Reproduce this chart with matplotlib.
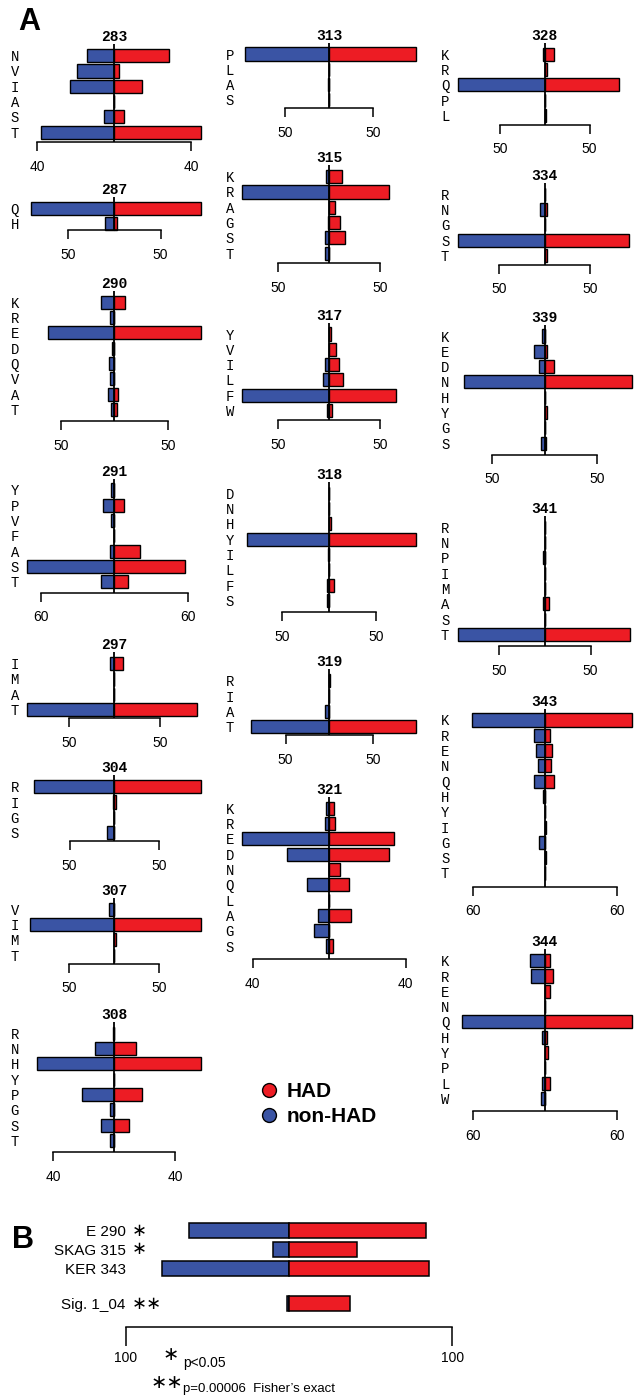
import matplotlib
matplotlib.use('Agg')
import matplotlib.pyplot as plt
from matplotlib.lines import Line2D

W, H = 637, 1399
RED = '#ED1C24'
BLUE = '#3A54A4'
ROW = 15.3  # px between residue rows
SANS = 'Liberation Sans'
MONO = 'Liberation Mono'

# ---- panel A data (% of sequences, HAD / non-HAD) ----
res_283 = ['N', 'V', 'I', 'A', 'S', 'T']
had_283 = [28.4, 2.4, 14.4, 0, 5.0, 45.2]
non_283 = [14.3, 19.2, 23.2, 0, 5.2, 37.9]

res_287 = ['Q', 'H']
had_287 = [94.0, 3.0]
non_287 = [90.0, 10.0]

res_290 = ['K', 'R', 'E', 'D', 'Q', 'V', 'A', 'T']
had_290 = [10.3, 0, 81.3, 0, 0, 0, 3.5, 2.5]
non_290 = [12.7, 4.3, 61.7, 2.4, 5.2, 4.3, 6.2, 3.4]

res_291 = ['Y', 'P', 'V', 'F', 'A', 'S', 'T']
had_291 = [0, 7.6, 0, 0, 21.1, 57.9, 11.1]
non_291 = [2.7, 9.4, 2.7, 0, 3.2, 71.0, 10.8]

res_297 = ['I', 'M', 'A', 'T']
had_297 = [9.5, 0, 0, 90.5]
non_297 = [4.7, 0, 0, 95.5]

res_304 = ['R', 'I', 'G', 'S']
had_304 = [97.4, 1.5, 0, 0]
non_304 = [89.6, 1.5, 0, 8.1]

res_307 = ['V', 'I', 'M', 'T']
had_307 = [0, 96.7, 1.5, 0]
non_307 = [5.6, 93.7, 0, 0]

res_308 = ['R', 'N', 'H', 'Y', 'P', 'G', 'S', 'T']
had_308 = [0, 14.2, 56.9, 0, 17.9, 0, 9.8, 0]
non_308 = [0.8, 12.4, 50.3, 0, 21.1, 2.6, 8.9, 2.8]

res_313 = ['P', 'L', 'A', 'S']
had_313 = [98.9, 0, 0, 0]
non_313 = [96.2, 0, 1.5, 0]

res_315 = ['K', 'R', 'A', 'G', 'S', 'T']
had_315 = [12.4, 58.4, 5.2, 10.1, 15.3, 0]
non_315 = [3.5, 85.3, 0, 1.6, 3.9, 4.5]

res_317 = ['Y', 'V', 'I', 'L', 'F', 'W']
had_317 = [2.0, 6.8, 9.2, 13.7, 65.2, 2.9]
non_317 = [0, 0, 4.2, 6.2, 85.3, 2.5]

res_318 = ['D', 'N', 'H', 'Y', 'I', 'L', 'F', 'S']
had_318 = [0, 0, 1.5, 92.9, 0, 0, 5.0, 0]
non_318 = [0.5, 0, 0, 88.3, 1.0, 0, 2.7, 2.7]

res_319 = ['R', 'I', 'A', 'T']
had_319 = [0.8, 0, 0, 99.7]
non_319 = [0.8, 0, 4.5, 89.3]

res_321 = ['K', 'R', 'E', 'D', 'N', 'Q', 'L', 'A', 'G', 'S']
had_321 = [2.4, 3.1, 33.7, 31.1, 5.6, 10.3, 0, 11.3, 0, 2.1]
non_321 = [1.7, 2.1, 45.5, 21.9, 0, 11.5, 0, 5.9, 7.8, 1.7]

res_328 = ['K', 'R', 'Q', 'P', 'L']
had_328 = [10.7, 2.5, 82.3, 0, 2.0]
non_328 = [1.9, 0, 96.7, 0, 0]

res_334 = ['R', 'N', 'G', 'S', 'T']
had_334 = [0, 2.9, 0, 92.8, 2.5]
non_334 = [0, 4.7, 0, 95.3, 0]

res_339 = ['K', 'E', 'D', 'N', 'H', 'Y', 'G', 'S']
had_339 = [0, 2.5, 9.2, 83.2, 0, 2.2, 0, 1.3]
non_339 = [2.2, 10.1, 5.7, 77.2, 0, 0, 0, 3.8]

res_341 = ['R', 'N', 'P', 'I', 'M', 'A', 'S', 'T']
had_341 = [0, 0, 0, 0, 0, 4.3, 0, 92.7]
non_341 = [0, 0, 1.8, 0, 0, 2.2, 0, 94.6]

res_343 = ['K', 'R', 'E', 'N', 'Q', 'H', 'Y', 'I', 'G', 'S', 'T']
had_343 = [72.3, 4.4, 6.3, 5.5, 7.4, 0, 0, 1.0, 0, 1.0, 0]
non_343 = [60.4, 9.3, 7.1, 5.2, 9.1, 1.2, 0, 0, 4.4, 0, 0]

res_344 = ['K', 'R', 'E', 'N', 'Q', 'H', 'Y', 'P', 'L', 'W']
had_344 = [4.7, 7.1, 4.7, 0, 72.3, 2.0, 2.7, 0, 4.1, 0]
non_344 = [12.1, 11.0, 0, 0, 68.4, 2.5, 0, 0, 2.5, 3.0]

# ---- panel B data ----
sig_names = ['E 290', 'SKAG 315', 'KER 343', 'Sig. 1_04']
sig_stars = ['\u2217', '\u2217', '', '\u2217\u2217']
sig_had = [83.9, 41.9, 85.5, 37.1]
sig_non = [61.1, 10.0, 77.6, 1.2]

fig = plt.figure(figsize=(W / 100, H / 100), dpi=100)


def px_axes(x0, y0, x1, y1):
    return fig.add_axes([x0 / W, 1 - y1 / H, (x1 - x0) / W, (y1 - y0) / H])


def panel(title, cx, ytop, res, had, non, tick):
    n = len(res)
    off = 0.35 + 0.05 * n
    ax = px_axes(cx - 87, ytop - 0.75 * ROW, cx + 87, ytop + (n - 1 + off) * ROW)
    y = list(range(n))
    ax.barh(y, [-v for v in non], height=0.86, color=BLUE, edgecolor='k',
            lw=1.0, clip_on=False, zorder=2)
    ax.barh(y, had, height=0.86, color=RED, edgecolor='k',
            lw=1.0, clip_on=False, zorder=2)
    lim = max(max(had), max(non))
    ax.set_xlim(-lim, lim)
    ax.set_ylim(n - 1 + off, -0.75)
    ax.axvline(0, color='k', lw=1.3, zorder=3)
    for s in ['top', 'left', 'right']:
        ax.spines[s].set_visible(False)
    ax.spines['bottom'].set_bounds(-tick, tick)
    ax.spines['bottom'].set_linewidth(1.1)
    ax.set_xticks([-tick, tick], [str(tick), str(tick)], fontsize=10, family=SANS)
    ax.tick_params(axis='x', direction='out', length=6.2, width=1.1, pad=6.5)
    ax.set_yticks(y, res, family=MONO, fontsize=10)
    ax.tick_params(axis='y', length=0, pad=6)
    ax.set_title(title, fontsize=10.5, fontweight='bold', family=MONO, pad=1.5)
    ax.patch.set_visible(False)


col = [114.3, 329.3, 544.7]
panel('283', col[0], 55.7, res_283, had_283, non_283, 40)
panel('287', col[0], 208.3, res_287, had_287, non_287, 50)
panel('290', col[0], 302.3, res_290, had_290, non_290, 50)
panel('291', col[0], 490.0, res_291, had_291, non_291, 60)
panel('297', col[0], 663.7, res_297, had_297, non_297, 50)
panel('304', col[0], 786.7, res_304, had_304, non_304, 50)
panel('307', col[0], 909.3, res_307, had_307, non_307, 50)
panel('308', col[0], 1033.3, res_308, had_308, non_308, 40)

panel('313', col[1], 54.0, res_313, had_313, non_313, 50)
panel('315', col[1], 176.7, res_315, had_315, non_315, 50)
panel('317', col[1], 334.0, res_317, had_317, non_317, 50)
panel('318', col[1], 493.3, res_318, had_318, non_318, 50)
panel('319', col[1], 680.7, res_319, had_319, non_319, 50)
panel('321', col[1], 808.3, res_321, had_321, non_321, 40)

panel('328', col[2], 54.3, res_328, had_328, non_328, 50)
panel('334', col[2], 194.3, res_334, had_334, non_334, 50)
panel('339', col[2], 336.0, res_339, had_339, non_339, 50)
panel('341', col[2], 527.3, res_341, had_341, non_341, 50)
panel('343', col[2], 720.0, res_343, had_343, non_343, 60)
panel('344', col[2], 960.7, res_344, had_344, non_344, 60)

# ---- panel B ----
bstep = 18.7
axb = px_axes(125.8, 1222.0, 452.2, 1326.7)
yb = [0, 1, 2, 3.9]
axb.barh(yb, [-v for v in sig_non], height=0.8, color=BLUE, edgecolor='k', lw=1.1, clip_on=False)
axb.barh(yb, sig_had, height=0.8, color=RED, edgecolor='k', lw=1.1, clip_on=False)
axb.set_xlim(-100, 100)
axb.set_ylim((1326.7 - 1230.7) / bstep, (1222.0 - 1230.7) / bstep)
for s in ['top', 'left', 'right']:
    axb.spines[s].set_visible(False)
axb.spines['bottom'].set_linewidth(1.1)
axb.set_xticks([-100, 100], ['100', '100'], fontsize=10, family=SANS)
axb.tick_params(axis='x', direction='out', length=13.5, width=1.1, pad=4)
axb.set_yticks(yb, sig_names, fontsize=11, family=SANS)
axb.tick_params(axis='y', length=0, pad=0)
axb.patch.set_visible(False)
for yy, st in zip(yb, sig_stars):
    axb.annotate(st, xy=(0, yy), xycoords=('axes fraction', 'data'), xytext=(4.5, 0),
                 textcoords='offset points', ha='left', va='center', fontsize=13,
                 family='DejaVu Sans')

fig.text(171 / W, 1 - 1354 / H, '\u2217', fontsize=14, family='DejaVu Sans', ha='center', va='center')
fig.text(183 / W, 1 - 1362.7 / H, 'p<0.05', fontsize=10, family=SANS, ha='left', va='center')
fig.text(166.5 / W, 1 - 1382 / H, '\u2217\u2217', fontsize=14, family='DejaVu Sans', ha='center', va='center')
fig.text(183 / W, 1 - 1389 / H, 'p=0.00006  Fisher\u2019s exact', fontsize=9.5,
         family=SANS, ha='left', va='center')

fig.text(29 / W, 1 - 22 / H, 'A', fontsize=22, fontweight='bold', family=SANS,
         ha='center', va='center')
fig.text(23.5 / W, 1 - 1240 / H, 'B', fontsize=22, fontweight='bold', family=SANS,
         ha='center', va='center')

handles = [Line2D([], [], ls='none', marker='o', ms=10, mfc=RED, mec='k', mew=1.0),
           Line2D([], [], ls='none', marker='o', ms=10, mfc=BLUE, mec='k', mew=1.0)]
fig.legend(handles, ['HAD', 'non-HAD'], loc='upper left', bbox_to_anchor=(260 / W, 1 - 1082 / H),
           frameon=False, prop=dict(family=SANS, weight='bold', size=15),
           handlelength=0.9, handletextpad=0.38, labelspacing=0.3, borderpad=0, borderaxespad=0)

fig.savefig('out.png', dpi=100, facecolor='w')
